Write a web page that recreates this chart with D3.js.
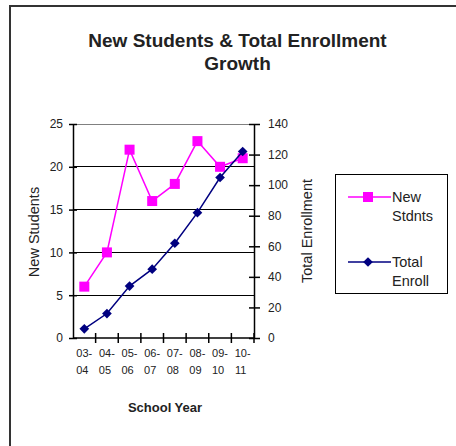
<!DOCTYPE html>
<html><head><meta charset="utf-8">
<script src="https://cdn.jsdelivr.net/npm/d3@7"></script>
<style>
html,body{margin:0;padding:0;background:#fff;}
svg{display:block;font-family:"Liberation Sans",Arial,sans-serif;}
</style></head>
<body>
<svg id="c" width="456" height="446"></svg>
<script>
const categories = ["03-04","04-05","05-06","06-07","07-08","08-09","09-10","10-11"];
const newStudents = [6, 10, 22, 16, 18, 23, 20, 21];
const totalEnroll = [6, 16, 34, 45, 62, 82, 105, 122];
const leftTicks = [0, 5, 10, 15, 20, 25];
const rightTicks = [0, 20, 40, 60, 80, 100, 120, 140];
const titleLines = ["New Students & Total Enrollment", "Growth"];
const seriesNames = [["New", "Stdnts"], ["Total", "Enroll"]];

const svg = d3.select("#c");
svg.append("rect").attr("x",10).attr("y",6).attr("width",470).attr("height",470)
  .attr("fill","#fff").attr("stroke","#333").attr("stroke-width",2);

const L = 73, R = 254, T = 124, B = 338;
const x = d3.scaleBand().domain(categories).range([L, R]);
const yL = d3.scaleLinear().domain([0, 25]).range([B, T]);
const yR = d3.scaleLinear().domain([0, 140]).range([B, T]);

// title
svg.append("text").attr("x",237.5).attr("y",47).attr("text-anchor","middle")
  .attr("font-size",19).attr("font-weight","bold").attr("fill","#222").text(titleLines[0]);
svg.append("text").attr("x",237.5).attr("y",70).attr("text-anchor","middle")
  .attr("font-size",19).attr("font-weight","bold").attr("fill","#222").text(titleLines[1]);

// gridlines
svg.append("g").selectAll("line").data(leftTicks.filter(d=>d>0)).join("line")
  .attr("x1",L).attr("x2",R).attr("y1",d=>yL(d)).attr("y2",d=>yL(d))
  .attr("stroke",d=>d===25?"#808080":"#000").attr("stroke-width",1)
  .attr("shape-rendering","crispEdges");

// left axis
const gl = svg.append("g").attr("transform",`translate(${L},0)`)
  .call(d3.axisLeft(yL).tickValues(leftTicks).tickSizeInner(5).tickSizeOuter(0).tickPadding(5));
gl.selectAll(".tick line").attr("x2",-4).attr("x1",4);
// right axis
const gr = svg.append("g").attr("transform",`translate(${R},0)`)
  .call(d3.axisRight(yR).tickValues(rightTicks).tickSizeInner(5).tickSizeOuter(0).tickPadding(9));
gr.selectAll(".tick line").attr("x1",-5).attr("x2",6);
[gl, gr].forEach(g => {
  g.select(".domain").attr("stroke","#000").attr("stroke-width",1.5);
  g.selectAll(".tick line").attr("stroke","#000").attr("stroke-width",1.5);
  g.selectAll("text").attr("font-size",12).attr("fill","#222")
    .attr("font-family","'Liberation Sans',Arial,sans-serif");
});

// bottom axis
svg.append("line").attr("x1",L).attr("x2",R).attr("y1",B).attr("y2",B)
  .attr("stroke","#000").attr("stroke-width",1.5);
svg.append("g").selectAll("line").data(categories).join("line")
  .attr("x1",d=>x(d)+x.bandwidth()).attr("x2",d=>x(d)+x.bandwidth())
  .attr("y1",B-5).attr("y2",B+5).attr("stroke","#000").attr("stroke-width",1.5);
const xl = svg.append("g").selectAll("text").data(categories).join("text")
  .attr("text-anchor","middle").attr("font-size",11).attr("fill","#222");
xl.append("tspan").attr("x",d=>x(d)+x.bandwidth()/2).attr("y",357).text(d=>d.split("-")[0]+"-");
xl.append("tspan").attr("x",d=>x(d)+x.bandwidth()/2 - 2).attr("y",374).text(d=>d.split("-")[1]);

// axis titles
svg.append("text").attr("transform","translate(34,232) rotate(-90)").attr("text-anchor","middle")
  .attr("dy","0.35em").attr("font-size",14.5).attr("fill","#222").text("New Students");
svg.append("text").attr("transform","translate(307,231) rotate(-90)").attr("text-anchor","middle")
  .attr("dy","0.35em").attr("font-size",14.5).attr("fill","#222").text("Total Enrollment");
svg.append("text").attr("x",165).attr("y",412).attr("text-anchor","middle")
  .attr("font-size",13).attr("font-weight","bold").attr("fill","#222").text("School Year");

const cx = d => x(d) + x.bandwidth()/2;
// new students
const pink = "#ff00ff", navy = "#000080";
svg.append("path").datum(categories.map((c,i)=>[cx(c), yL(newStudents[i])]))
  .attr("d", d3.line()).attr("fill","none").attr("stroke",pink).attr("stroke-width",1.5);
svg.append("g").selectAll("rect").data(categories).join("rect")
  .attr("x",(c)=>cx(c)-5).attr("y",(c,i)=>yL(newStudents[i])-5)
  .attr("width",10).attr("height",10).attr("fill",pink);
// total enroll
svg.append("path").datum(categories.map((c,i)=>[cx(c), yR(totalEnroll[i])]))
  .attr("d", d3.line()).attr("fill","none").attr("stroke",navy).attr("stroke-width",1.5);
const diamond = d3.symbol().type(d3.symbolDiamond2).size(60);
svg.append("g").selectAll("path").data(categories).join("path")
  .attr("transform",(c,i)=>`translate(${cx(c)},${yR(totalEnroll[i])})`)
  .attr("d",diamond).attr("fill",navy);

// legend
svg.append("rect").attr("x",335.5).attr("y",174.5).attr("width",112).attr("height",119)
  .attr("fill","#fff").attr("stroke","#000").attr("stroke-width",1);
const legY = [197, 262];
[pink, navy].forEach((col, i) => {
  svg.append("line").attr("x1",348).attr("x2",391).attr("y1",legY[i]).attr("y2",legY[i])
    .attr("stroke",col).attr("stroke-width",1.5);
  if (i===0) svg.append("rect").attr("x",363).attr("y",legY[i]-5).attr("width",10).attr("height",10).attr("fill",col);
  else svg.append("path").attr("transform",`translate(368,${legY[i]})`).attr("d",diamond).attr("fill",col);
  const t = svg.append("text").attr("font-size",14.5).attr("fill","#222");
  t.append("tspan").attr("x",392).attr("y",legY[i]+5).text(seriesNames[i][0]);
  t.append("tspan").attr("x",392).attr("y",legY[i]+24).text(seriesNames[i][1]);
});
</script>
</body></html>
